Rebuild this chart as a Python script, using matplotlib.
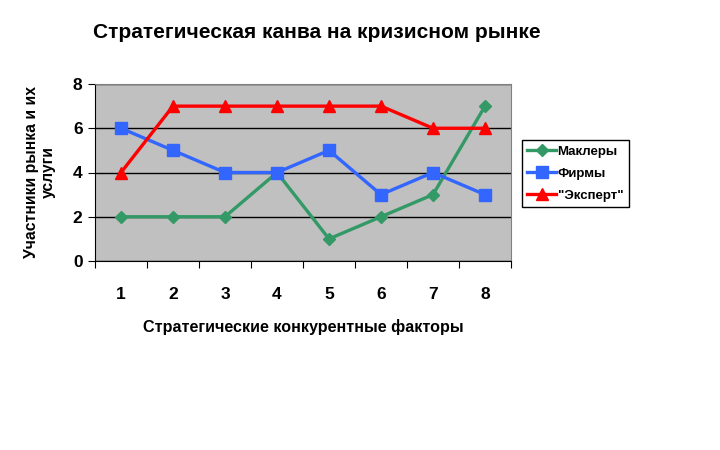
import matplotlib
matplotlib.use('Agg')
import matplotlib.pyplot as plt

plt.rcParams['font.family'] = ['Liberation Sans', 'DejaVu Sans']

factors = ['1', '2', '3', '4', '5', '6', '7', '8']
brokers = [2, 2, 2, 4, 1, 2, 3, 7]
firms = [6, 5, 4, 4, 5, 3, 4, 3]
expert = [4, 7, 7, 7, 7, 7, 6, 6]

series = [
    ('Маклеры', brokers, '#339966', 'D', 6),
    ('Фирмы', firms, '#3366FF', 's', 8),
    ('"Эксперт"', expert, '#FF0000', '^', 9),
]

fig = plt.figure(figsize=(7.2, 4.5), dpi=100)
ax = fig.add_axes([95 / 720, 1 - 261 / 450, 416 / 720, 177 / 450])
ax.set_facecolor('#C0C0C0')

x = list(range(1, len(factors) + 1))
for name, vals, color, marker, ms in series:
    ax.plot(x, vals, color=color, lw=2.4, marker=marker, markersize=ms, label=name)

ax.set_xlim(0.5, len(factors) + 0.5)
ax.set_ylim(0, 8)
ax.set_yticks([0, 2, 4, 6, 8])
ax.yaxis.grid(True, color='black', lw=1)
ax.set_axisbelow(True)

ax.set_xticks([i + 0.5 for i in range(len(factors) + 1)], minor=False)
ax.set_xticklabels([])
ax.set_xticks(x, minor=True)
ax.set_xticklabels(factors, minor=True, fontsize=12.5, fontweight='bold')
ax.tick_params(axis='x', which='minor', length=0, pad=19)
ax.tick_params(axis='x', which='major', length=5, direction='out', color='black')
ax.tick_params(axis='y', length=5, direction='out', labelsize=12.5, pad=4)
for lbl in ax.get_yticklabels():
    lbl.set_fontweight('bold')

ax.spines['top'].set_color('#808080')
ax.spines['right'].set_color('#808080')
ax.spines['left'].set_color('black')
ax.spines['bottom'].set_color('black')

ax.set_xlabel('Стратегические конкурентные факторы', fontsize=11.6, fontweight='bold', labelpad=12)
ax.set_ylabel('Участники рынка и их\nуслуги', fontsize=11.3, fontweight='bold', labelpad=12)

fig.text(93 / 720, 1 - 32 / 450, 'Стратегическая канва на кризисном рынке',
         fontsize=15, fontweight='bold', va='center', ha='left')

leg = fig.legend(loc='upper left', bbox_to_anchor=(522 / 720, 1 - 140 / 450),
                 frameon=True, fancybox=False, edgecolor='black', framealpha=1,
                 prop={'size': 9.5, 'weight': 'bold'}, handlelength=2.2,
                 handletextpad=0.1, borderpad=0.4, labelspacing=0.75, borderaxespad=0)
leg.get_frame().set_linewidth(1)

fig.savefig('out.png', dpi=100)
